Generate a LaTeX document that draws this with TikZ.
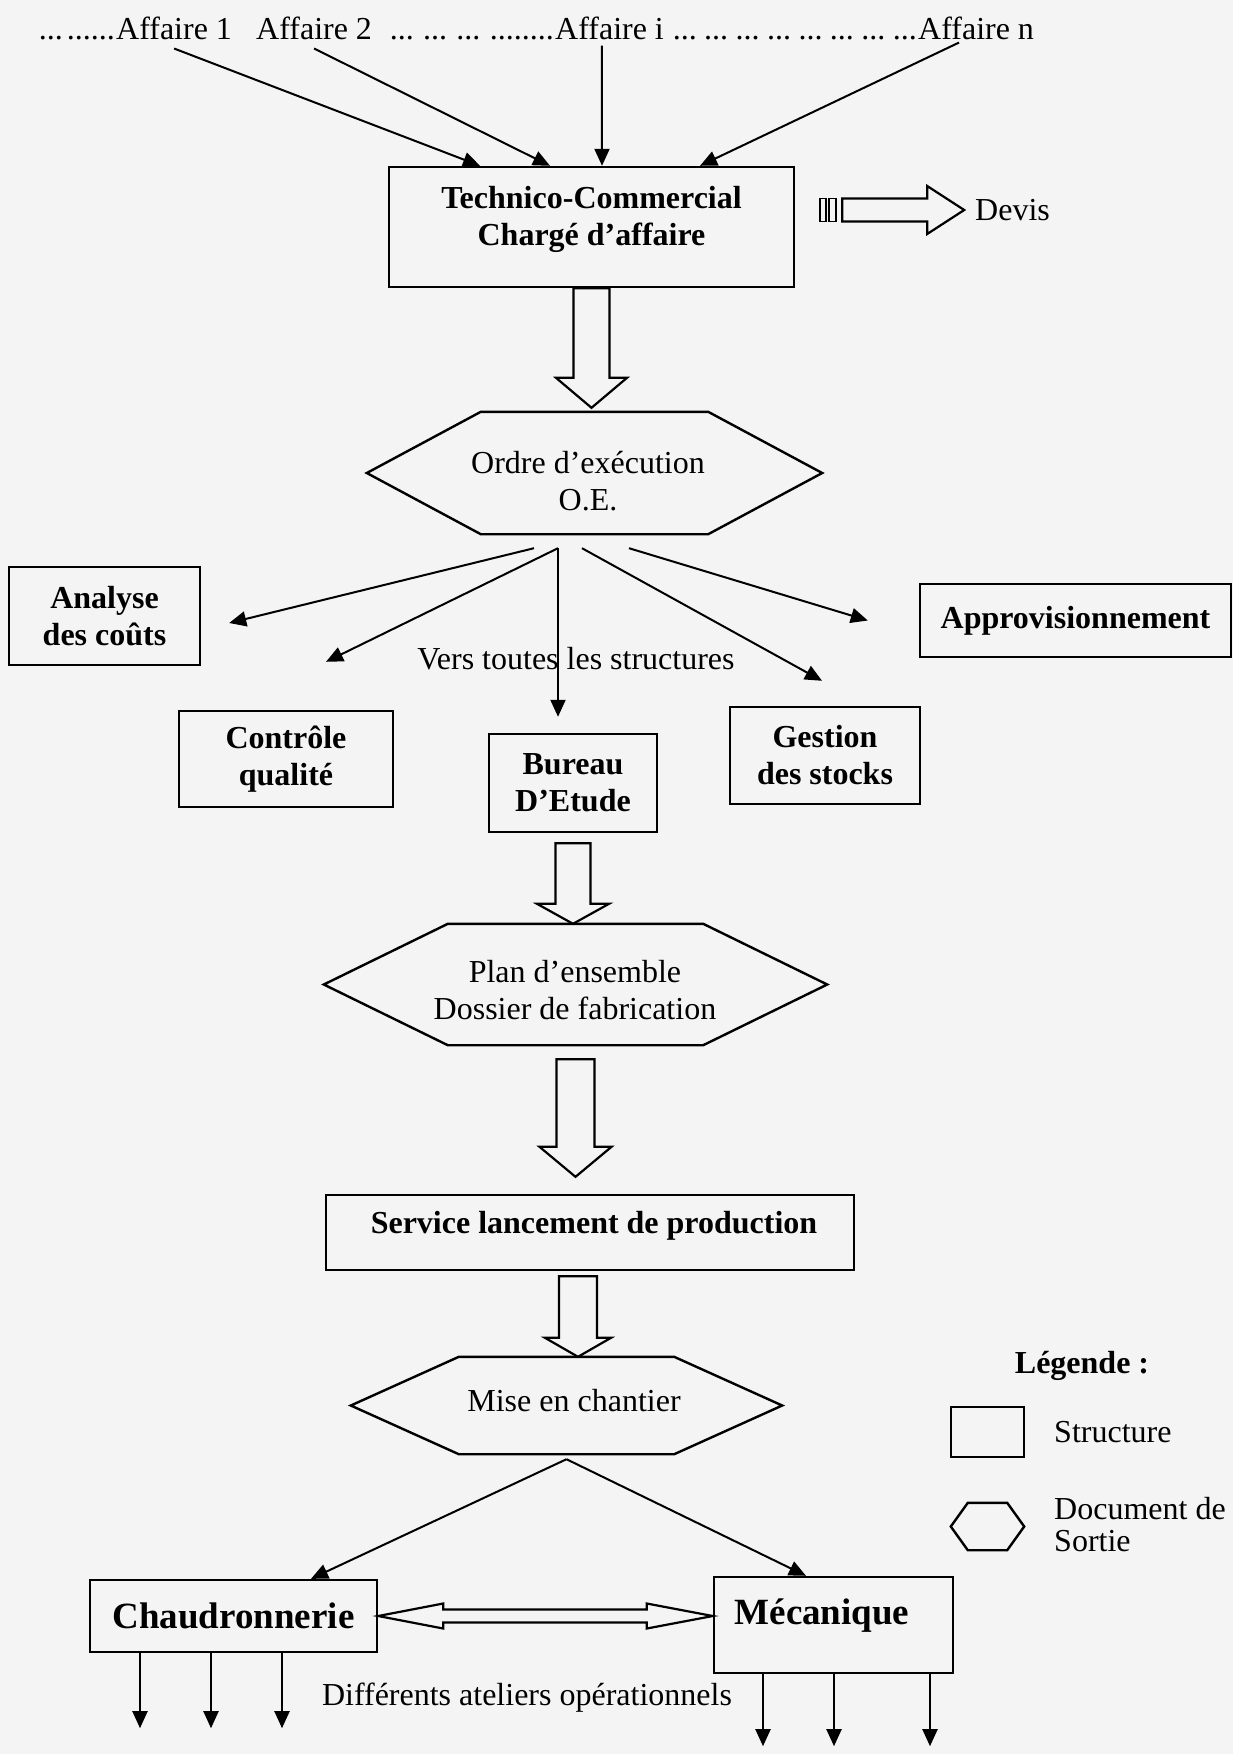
\documentclass[tikz,border=0pt]{standalone}
\usepackage{fontspec}
\setmainfont{Liberation Serif}
\usetikzlibrary{arrows.meta,calc}
\definecolor{bg}{RGB}{244,244,245}
\newcommand\hexdraw[2]{\draw[shapeline] (#1.west) -- ([xshift=#2]#1.north west) -- ([xshift=-#2]#1.north east) -- (#1.east) -- ([xshift=-#2]#1.south east) -- ([xshift=#2]#1.south west) -- cycle;}
\newcommand\blockdown[5]{\draw[blockline] let \p1=(#1), \p2=(#2) in (\x1-#3,\y1) -- (\x1-#3,\y2+#5) -- (\x1-#4,\y2+#5) -- (\x1,\y2) -- (\x1+#4,\y2+#5) -- (\x1+#3,\y2+#5) -- (\x1+#3,\y1) -- cycle;}
\begin{document}
\begin{tikzpicture}[x=1pt,y=-1pt,
  txt/.style={font=\fontsize{32}{37}\selectfont, inner sep=0pt, align=center},
  btxt/.style={font=\fontsize{32}{37}\selectfont\bfseries, inner sep=0pt, align=center},
  box/.style={draw, line width=2.4pt, inner sep=0pt, align=center, font=\fontsize{32}{37}\selectfont\bfseries},
  hexnode/.style={inner sep=0pt},
  shapeline/.style={line width=2.4pt, line join=miter},
  blockline/.style={line width=2.2pt, line join=miter},
  arr/.style={line width=2pt, -{Triangle[length=17pt,width=15pt]}},
]
\fill[bg] (0,0) rectangle (1233,1754);
\useasboundingbox (0,0) rectangle (1233,1754);

% top line
\node[txt, anchor=base west] (a1) at (116,39) {Affaire 1};
\node[txt, anchor=base east] (d1) at ([xshift=-1pt]a1.base west) {\makebox[76pt][s]{...\hfill......}};
\node[txt, anchor=base west] (a2) at (256,39) {Affaire 2};
\node[txt, anchor=base west] (ai) at (555,39) {Affaire i};
\node[txt, anchor=base east] (d2) at ([xshift=-1pt]ai.base west) {\makebox[164pt][s]{...\hfill...\hfill...\hfill........}};
\node[txt, anchor=base west] (an) at (918,39) {Affaire n};
\node[txt, anchor=base east] (d3) at ([xshift=-1pt]an.base west) {\makebox[244pt][s]{...\hfill...\hfill...\hfill...\hfill...\hfill...\hfill...\hfill...}};

% Technico-commercial
\node[box, minimum width=405pt, minimum height=120pt] (tc) at (591.5,227) {};
\node[btxt] (tct) at (591.5,219) {Technico-Commercial\\Chargé d’affaire};

\draw[arr] ([yshift=-9pt]a1.south) -- ([xshift=-111.5pt]tc.north);
\draw[arr] ([yshift=-9pt]a2.south) -- ([xshift=-41.5pt]tc.north);
\draw[arr] ([xshift=-7.6pt,yshift=-6pt]ai.south) -- ([xshift=10.5pt]tc.north);
\draw[arr] ([xshift=-17pt,yshift=-3pt]an.south) -- ([xshift=108.5pt]tc.north);

% Devis
\node[txt, anchor=west] (devis) at (975,210) {Devis};
\coordinate (dv0) at ([xshift=25pt,yshift=17pt]tc.east);
\draw[line width=1.8pt] ($(dv0)+(0,-11.5)$) rectangle ($(dv0)+(6,11.5)$);
\draw[line width=1.8pt] ($(dv0)+(9,-11.5)$) rectangle ($(dv0)+(16,11.5)$);
\draw[blockline] ($(dv0)+(22,-11.5)$) -- ($(dv0)+(107,-11.5)$) -- ($(dv0)+(107,-24)$) -- ($(dv0)+(144,0)$) -- ($(dv0)+(107,24)$) -- ($(dv0)+(107,11.5)$) -- ($(dv0)+(22,11.5)$) -- cycle;

% Ordre d'execution
\node[hexnode, minimum width=455pt, minimum height=122pt] (oe) at (594.5,473) {};
\hexdraw{oe}{114pt}
\node[txt] (oet) at (588,481) {Ordre d’exécution\\O.E.};
\blockdown{tc.south}{[yshift=4pt]oe.north}{18pt}{35.5pt}{30pt}

% structures
\node[box, minimum width=191pt, minimum height=98pt] (ac) at (104.5,616) {Analyse\\des coûts};
\node[box, minimum width=311pt, minimum height=73pt] (ap) at (1075.5,620.5) {Approvisionnement};
\node[box, minimum width=214pt, minimum height=96pt] (cq) at (286,759) {Contrôle\\qualité};
\node[box, minimum width=168pt, minimum height=98pt] (be) at (573,783) {Bureau\\D’Etude};
\node[box, minimum width=190pt, minimum height=97pt] (gs) at (825,755.5) {Gestion\\des stocks};

\draw[arr] ([xshift=-60.5pt,yshift=-14pt]oe.south) -- ([xshift=28pt,yshift=-7pt]ac.east);
\draw[arr] ([xshift=-36.5pt,yshift=-14pt]oe.south) -- ([xshift=40pt,yshift=48pt]cq.north);
\draw[arr] ([xshift=-36.5pt,yshift=-14pt]oe.south) -- ([xshift=-15pt,yshift=16pt]be.north);
\draw[arr] ([xshift=-12.5pt,yshift=-14pt]oe.south) -- ([xshift=-3pt,yshift=25pt]gs.north);
\draw[arr] ([xshift=34.5pt,yshift=-14pt]oe.south) -- ([xshift=-51pt]ap.west);
\node[txt] (vers) at (576,659) {Vers toutes les structures};

% Plan d'ensemble
\node[hexnode, minimum width=503pt, minimum height=121pt] (plan) at (575.5,984.5) {};
\hexdraw{plan}{124pt}
\node[txt] (plant) at (575,990) {Plan d’ensemble\\Dossier de fabrication};
\blockdown{[yshift=-10pt]be.south}{plan.north}{17.5pt}{36pt}{20pt}

% Service lancement
\node[box, minimum width=528pt, minimum height=75pt] (srv) at (590,1232.5) {};
\node[btxt] (srvt) at (594,1226) {Service lancement de production};
\blockdown{[yshift=-14pt]plan.south}{[yshift=17pt]srv.north}{19pt}{36pt}{30pt}

% Mise en chantier
\node[hexnode, minimum width=431pt, minimum height=97pt] (mise) at (566.5,1405.5) {};
\hexdraw{mise}{108pt}
\node[txt] (miset) at (574,1401) {Mise en chantier};
\blockdown{[xshift=-12pt,yshift=-5pt]srv.south}{mise.north}{19pt}{33pt}{19pt}

% ateliers
\node[box, minimum width=287pt, minimum height=72pt, font=\fontsize{37}{42}\selectfont\bfseries] (ch) at (233.5,1616) {Chaudronnerie};
\node[box, minimum width=239pt, minimum height=96pt] (me) at (833.5,1625) {};
\node[btxt, font=\fontsize{37}{42}\selectfont\bfseries] (met) at (822,1616) {Mécanique};

\draw[arr] ([yshift=-5pt]mise.south) -- ([xshift=77.5pt]ch.north);
\draw[arr] ([yshift=-5pt]mise.south) -- ([xshift=-27.5pt]me.north);

\draw[blockline] let \p1=(ch.east), \p2=(me.west) in (\x1,\y1) -- (\x1+65pt,\y1+12.5pt) -- (\x1+65pt,\y1+6.5pt) -- (\x2-66pt,\y1+6.5pt) -- (\x2-66pt,\y1+12.5pt) -- (\x2,\y1) -- (\x2-66pt,\y1-12.5pt) -- (\x2-66pt,\y1-6.5pt) -- (\x1+65pt,\y1-6.5pt) -- (\x1+65pt,\y1-12.5pt) -- cycle;

\foreach \dx in {-93.5,-22.5,48.5} \draw[arr] ([xshift=\dx pt]ch.south) -- ++(0,75);
\foreach \dx in {-70.5,0.5,96.5} \draw[arr] ([xshift=\dx pt]me.south) -- ++(0,72);
\node[txt] (diff) at (527,1698) {Différents ateliers opérationnels};

% legend
\node[btxt] (leg) at (1082,1366) {Légende :};
\node[box, minimum width=73pt, minimum height=50pt, line width=2pt] (lrect) at (987.5,1432) {};
\node[txt, anchor=west] (lstr) at (1054,1432) {Structure};
\node[hexnode, minimum width=73pt, minimum height=47pt] (lhex) at (987.5,1526.5) {};
\hexdraw{lhex}{17pt}
\node[txt, anchor=north west, align=left, font=\fontsize{32}{32}\selectfont] (ldoc) at (1054,1497) {Document de\\Sortie};
\end{tikzpicture}
\end{document}
